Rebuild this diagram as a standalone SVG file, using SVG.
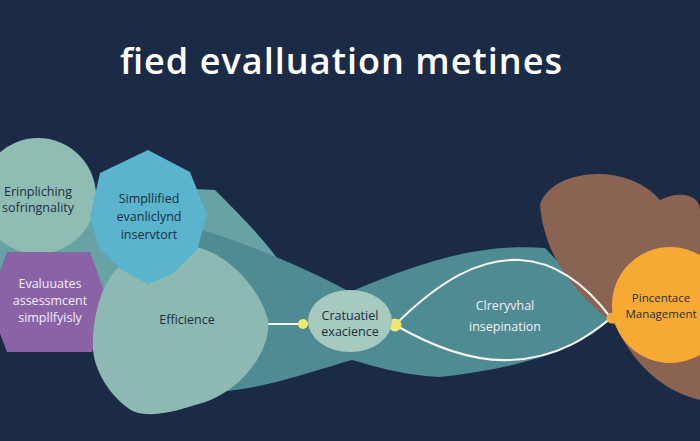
<svg xmlns="http://www.w3.org/2000/svg" width="700" height="441" viewBox="0 0 700 441">
<style>
.t{font-family:"Open Sans","Liberation Sans",sans-serif;font-size:12.5px;text-anchor:middle;fill:#1c2e40}
.w{fill:#f2eef6}
.title{font-family:"Open Sans","Liberation Sans",sans-serif;font-size:36px;font-weight:600;fill:#ffffff;text-anchor:middle}
.ln{fill:none;stroke:#f4f4f0;stroke-width:2.2}
</style>
<rect width="700" height="441" fill="#1b2b46"/>
<text class="title" x="341" y="74" textLength="442">fied evalluation metines</text>

<g id="background">
  <path d="M0,200 C60,192 150,186 215,190 C240,215 260,235 280,262 L200,300 L120,310 L0,310 Z" fill="#67a2a5"/>
  <path d="M150,215 C230,235 300,265 350,292 C420,262 480,243 545,248 L612,318 C580,350 520,368 440,377 C400,375 370,365 352,360 C310,372 260,390 215,392 C160,380 120,330 150,215 Z" fill="#4f8b93"/>
  <path d="M540,205 C550,170 625,160 660,200 C680,190 700,195 700,210 L700,400 C670,392 640,375 615,325 C585,300 545,265 540,205 Z" fill="#8a6353"/>
</g>

<g id="connectors">
  <line class="ln" x1="262" y1="324" x2="303" y2="324"/>
  <path class="ln" d="M395,325 C440,280 480,258 520,260 C560,262 590,290 611,318"/>
  <path class="ln" d="M395,325 C430,345 470,362 510,360 C560,358 590,335 611,318"/>
  <circle cx="303" cy="324" r="5" fill="#eee870"/>
  <circle cx="395" cy="325" r="6.5" fill="#eee870"/>
  <circle cx="612" cy="318" r="5.5" fill="#f5aa33"/>
</g>

<g id="n-erinpliching">
  <circle cx="38" cy="196" r="58" fill="#8fbdb4"/>
  <text class="t" x="38" y="196">Erinpliching</text>
  <text class="t" x="38" y="212">sofringnality</text>
</g>

<g id="n-evaluuates">
  <polygon points="-12,302 7,252 90,252 108,302 92,352 7,352" fill="#8a63a6"/>
  <text class="t w" x="50" y="288">Evaluuates</text>
  <text class="t w" x="50" y="305">assessmcent</text>
  <text class="t w" x="50" y="322">simpllfyisly</text>
</g>

<g id="n-efficience">
  <path d="M118,268 C140,250 175,242 200,248 C235,258 262,295 268,320 C272,350 240,395 195,405 C165,415 140,418 128,408 C110,395 95,372 93,350 C92,320 100,285 118,268 Z" fill="#8cb9b2"/>
  <text class="t" x="187" y="324">Efficience</text>
</g>

<g id="n-simplified">
  <polygon points="148,150 190,172 207,215 197,250 172,274 148,284 122,270 100,250 90,217 100,173" fill="#5ab4cd"/>
  <text class="t" x="149" y="203">Simpllified</text>
  <text class="t" x="149" y="221">evanliclynd</text>
  <text class="t" x="149" y="239">inservtort</text>
</g>

<g id="n-cratuatiel">
  <ellipse cx="350" cy="321" rx="42" ry="31" fill="#a6c9c0"/>
  <text class="t" x="350" y="320">Cratuatiel</text>
  <text class="t" x="350" y="336">exacience</text>
</g>

<g id="n-clreryvhal">
  <text class="t w" x="505" y="310">Clreryvhal</text>
  <text class="t w" x="505" y="331">insepination</text>
</g>

<g id="n-pincentace">
  <circle cx="670" cy="305" r="58" fill="#f6aa34"/>
  <text class="t" x="661" y="302" style="font-size:11.5px">Pincentace</text>
  <text class="t" x="661" y="318" style="font-size:11.5px">Management</text>
</g>
</svg>
